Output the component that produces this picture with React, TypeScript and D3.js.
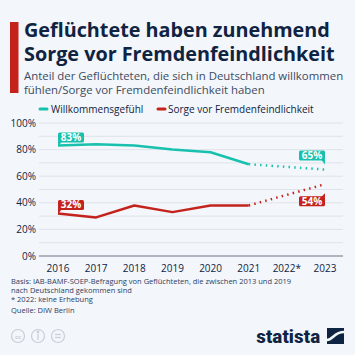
import React from "react";
import * as d3 from "d3";

const years = ["2016", "2017", "2018", "2019", "2020", "2021", "2022*", "2023"];
const willkommen: (number | null)[] = [83, 84, 83, 80, 78, 69, null, 65];
const sorge: (number | null)[] = [32, 29, 38, 33, 38, 38, null, 54];
const yTicks = [0, 20, 40, 60, 80, 100];
const gridTicks = [0, 10, 20, 30, 40, 50, 60, 70, 80, 90, 100];
const seriesNames = ["Willkommensgefühl", "Sorge vor Fremdenfeindlichkeit"];

const TEAL = "#17c1ad";
const RED = "#c4231c";
const NAVY = "#0f2342";
const FONT = "'Open Sans', 'Noto Sans', sans-serif";

export default function App() {
  const W = 355, H = 355;
  const x = d3.scalePoint<string>().domain(years).range([58, 325]);
  const y = d3.scaleLinear().domain([0, 100]).range([256, 123]);

  const line = d3
    .line<[string, number]>()
    .x((d) => x(d[0])!)
    .y((d) => y(d[1]));

  const solidPts = (vals: (number | null)[]) =>
    years.slice(0, 6).map((yr, i) => [yr, vals[i] as number] as [string, number]);
  const dotPts = (vals: (number | null)[]) =>
    [
      [years[5], vals[5] as number],
      [years[7], vals[7] as number],
    ] as [string, number][];

  const label = (
    xc: number,
    yTop: number,
    text: string,
    color: string,
    tail: "bl" | "br" | "tr"
  ) => {
    const w = 26, h = 10;
    const x0 = xc, x1 = xc + w;
    let tailPath = "";
    if (tail === "bl") tailPath = `M${x0},${yTop + h - 1} L${x0},${yTop + h + 4} L${x0 + 4},${yTop + h - 1}Z`;
    if (tail === "br") tailPath = `M${x1},${yTop + h - 1} L${x1},${yTop + h + 4} L${x1 - 4},${yTop + h - 1}Z`;
    if (tail === "tr") tailPath = `M${x1},${yTop + 1} L${x1},${yTop - 3} L${x1 - 4},${yTop + 1}Z`;
    return (
      <g>
        <rect x={x0} y={yTop} width={w} height={h} rx={1.5} fill={color} />
        <path d={tailPath} fill={color} />
        <text
          x={x0 + w / 2}
          y={yTop + h - 1.6}
          textAnchor="middle"
          fontSize={10}
          fontWeight={700}
          fill="#fff"
          fontFamily={FONT}
        >
          {text}
        </text>
      </g>
    );
  };

  const wk2016 = willkommen[0] as number;
  const sg2016 = sorge[0] as number;
  const wk2023 = willkommen[7] as number;
  const sg2023 = sorge[7] as number;

  return (
    <svg
      width={W}
      height={H}
      style={{ position: "absolute", left: 0, top: 0, display: "block" }}
      fontFamily={FONT}
    >
      <rect width={W} height={H} fill="#f3f6fa" />
      <rect x={10} y={22} width={8.5} height={71} fill={RED} />
      <text x={24} y={37} fontSize={19.8} fontWeight={700} fill={NAVY}>
        Geflüchtete haben zunehmend
      </text>
      <text x={24} y={61} fontSize={19.8} fontWeight={700} fill={NAVY}>
        Sorge vor Fremdenfeindlichkeit
      </text>
      <text x={24} y={80} fontSize={11.4} fill="#3c4b63">
        Anteil der Geflüchteten, die sich in Deutschland willkommen
      </text>
      <text x={24} y={94} fontSize={11.4} fill="#3c4b63">
        fühlen/Sorge vor Fremdenfeindlichkeit haben
      </text>

      {/* legend */}
      <line x1={40} x2={47} y1={109} y2={109} stroke={TEAL} strokeWidth={3} strokeLinecap="round" />
      <text x={51} y={113} fontSize={10} fill={NAVY}>{seriesNames[0]}</text>
      <line x1={158} x2={165} y1={109} y2={109} stroke={RED} strokeWidth={3} strokeLinecap="round" />
      <text x={168} y={113} fontSize={10} fill={NAVY}>{seriesNames[1]}</text>

      {/* grid */}
      {gridTicks.map((t) => (
        <line key={t} x1={39} x2={343} y1={y(t)} y2={y(t)} stroke={t === 0 ? "#6b7585" : "#d9dee6"} strokeWidth={t === 0 ? 1 : 0.8} />
      ))}
      {yTicks.map((t) => (
        <text key={t} x={36} y={y(t) + 3.5} textAnchor="end" fontSize={10} fill={NAVY}>
          {t}%
        </text>
      ))}
      {years.map((yr) => (
        <text key={yr} x={x(yr)} y={272} textAnchor="middle" fontSize={10} fill={NAVY}>
          {yr}
        </text>
      ))}

      {/* lines */}
      <path d={line(solidPts(willkommen))!} fill="none" stroke={TEAL} strokeWidth={2.5} strokeLinejoin="round" />
      <path d={line(dotPts(willkommen))!} fill="none" stroke={TEAL} strokeWidth={2.5} strokeDasharray="1.5 4.2" />
      <path d={line(solidPts(sorge))!} fill="none" stroke={RED} strokeWidth={2.5} strokeLinejoin="round" />
      <path d={line(dotPts(sorge))!} fill="none" stroke={RED} strokeWidth={2.5} strokeDasharray="1.5 4.2" />

      {label(x(years[0])!, y(wk2016) - 13, `${wk2016}%`, TEAL, "bl")}
      {label(x(years[0])!, y(sg2016) - 13.5, `${sg2016}%`, RED, "bl")}
      {label(x(years[7])! - 26, y(wk2023) - 19, `${wk2023}%`, TEAL, "br")}
      {label(x(years[7])! - 26, y(sg2023) + 12, `${sg2023}%`, RED, "tr")}

      {/* footer */}
      <g fontSize={7.5} fill="#2f4060">
        <text x={11} y={284}>Basis: IAB-BAMF-SOEP-Befragung von Geflüchteten, die zwischen 2013 und 2019</text>
        <text x={11} y={293}>nach Deutschland gekommen sind</text>
        <text x={11} y={302}>* 2022: keine Erhebung</text>
        <text x={11} y={313}>Quelle: DIW Berlin</text>
      </g>

      {/* cc icons */}
      <g stroke="#c9ced8" strokeWidth={1.2} fill="none">
        <circle cx={18} cy={336} r={6.5} />
        <circle cx={38} cy={336} r={6.5} />
        <circle cx={58} cy={336} r={6.5} />
        <line x1={55} x2={61} y1={334.5} y2={334.5} />
        <line x1={55} x2={61} y1={337.5} y2={337.5} />
        <line x1={38} x2={38} y1={334} y2={340} />
        <circle cx={38} cy={332} r={0.8} fill="#c9ced8" />
      </g>
      <text x={18} y={338.5} textAnchor="middle" fontSize={6} fontWeight={700} fill="#c9ced8">cc</text>

      {/* statista logo */}
      <text x={256} y={343} fontSize={19} fontWeight={700} fill={NAVY} fontFamily="'Roboto Condensed', 'Liberation Sans Narrow', 'Roboto', sans-serif" letterSpacing={-0.3} textLength={64} lengthAdjust="spacingAndGlyphs">
        statista
      </text>
      <rect x={327} y={328} width={17} height={16} fill={NAVY} />
      <path d="M327,340 C333,340 334,332 344,332" stroke="#f3f6fa" strokeWidth={2.5} fill="none" />
    </svg>
  );
}
